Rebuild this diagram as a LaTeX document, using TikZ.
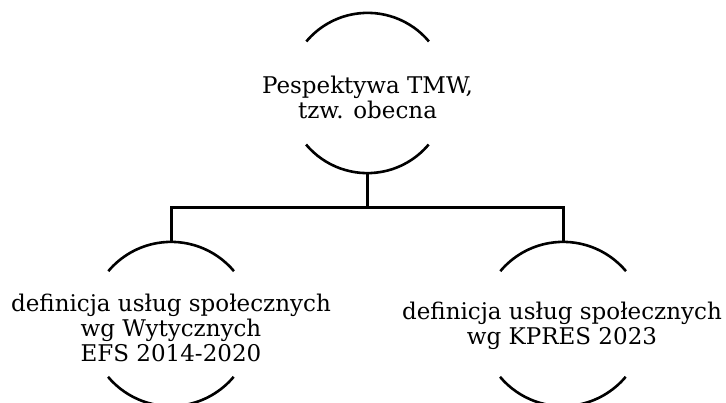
\documentclass[tikz,border=0pt]{standalone}
\usepackage{fontspec}
\setmainfont{DejaVu Serif}
\begin{document}
\begin{tikzpicture}[x=1pt,y=1pt,
  circ/.style={circle,draw=none,minimum size=164pt,inner sep=0pt},
  lbl/.style={align=center,inner sep=0pt,font=\fontsize{23}{25}\selectfont},
  arcline/.style={line width=2.6pt},
  conn/.style={line width=3pt}]
\useasboundingbox (0,0) rectangle (726,402);
\begin{scope}
\clip (0,0) rectangle (726,402);
\node[circ,minimum size=160pt] (t) at (367.5,309) {};
\node[circ] (l) at (171,78) {};
\node[circ] (r) at (563,78) {};
\node[lbl] (tl) at (367.5,305) {Pespektywa TMW,\\tzw. obecna};
\node[lbl] (ll) at (171,74) {definicja usług społecznych\\wg Wytycznych\\EFS 2014-2020};
\node[lbl] (rl) at (562,76) {definicja usług społecznych\\wg KPRES 2023};
\foreach \n/\rr in {t/80,l/82,r/82}{
  \draw[arcline] (\n.40) arc[start angle=40,end angle=140,radius=\rr];
  \draw[arcline] (\n.220) arc[start angle=220,end angle=320,radius=\rr];
}
\coordinate (bus) at (367.5,194);
\draw[conn] (t.south) -- (bus) -| (l.north);
\draw[conn] (bus) -| (r.north);
\end{scope}
\end{tikzpicture}
\end{document}
